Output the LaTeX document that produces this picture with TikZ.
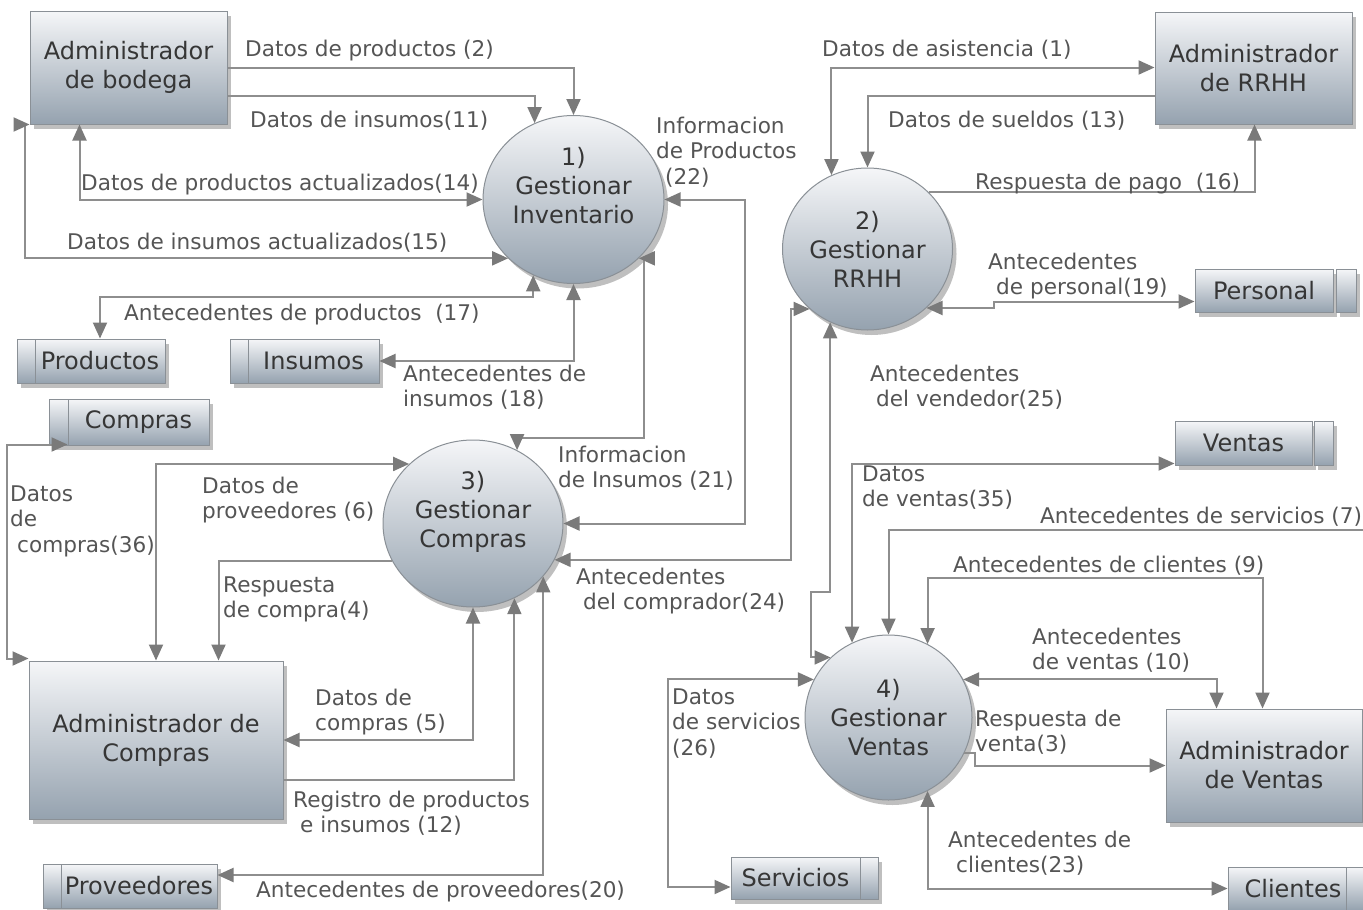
\documentclass[tikz,border=0pt]{standalone}
\usepackage{fontspec}
\setmainfont{DejaVu Sans}
\usetikzlibrary{arrows.meta,shapes.geometric,calc,shadows}
\definecolor{lc}{HTML}{8E8E8E}
\definecolor{ac}{HTML}{7A7A7A}
\definecolor{tc}{HTML}{555555}
\definecolor{nc}{HTML}{363636}
\definecolor{topc}{HTML}{F5F6F8}
\definecolor{botc}{HTML}{95A2AF}
\definecolor{bordc}{HTML}{8A9096}
\tikzset{
 ent/.style={draw=bordc, line width=1pt, top color=topc, bottom color=botc,
   drop shadow={shadow xshift=4pt,shadow yshift=-5pt,opacity=0.25,fill=black},
   font=\fontsize{24}{29}\selectfont, text=nc, align=center, inner sep=0pt},
 proc/.style={ellipse, ent},
 box/.style={rectangle, ent},
 tip/.tip={Triangle[length=16pt,width=14pt,color=ac]},
 flow/.style={draw=lc, line width=2pt, -tip},
 bflow/.style={draw=lc, line width=2pt, tip-tip},
 lbl/.style={font=\fontsize{21.6}{25.5}\selectfont, text=tc, inner sep=0pt, align=left, anchor=north west},
}
\begin{document}
\begin{tikzpicture}[x=1pt,y=-1pt]
\fill[white] (0,0) rectangle (1363,910);
\useasboundingbox (0,0) rectangle (1363,910);

% external entities
\node[box, minimum width=197pt, minimum height=113pt] (AdmB) at (128.5,67.5) {Administrador\\de bodega};
\node[box, minimum width=197pt, minimum height=112pt] (AdmR) at (1253.5,68) {Administrador\\de RRHH};
\node[box, minimum width=254pt, minimum height=158pt] (AdmC) at (156,740) {Administrador de\\Compras};
\node[box, minimum width=196pt, minimum height=113pt] (AdmV) at (1264,765.5) {Administrador\\de Ventas};

% processes
\node[proc, minimum width=181pt, minimum height=168pt] (P1) at (573.5,199.5) {1)\\Gestionar\\Inventario\\\mbox{}};
\node[proc, minimum width=170pt, minimum height=162pt] (P2) at (867.5,249) {2)\\Gestionar\\RRHH};
\node[proc, minimum width=180pt, minimum height=167pt] (P3) at (473,523.5) {3)\\Gestionar\\Compras\\\mbox{}};
\node[proc, minimum width=167pt, minimum height=165pt] (P4) at (888.5,717.5) {4)\\Gestionar\\Ventas};

% data stores (left tab)
\node[box, minimum width=18pt, minimum height=44pt] (ProductosT) at (26,361) {};
\node[box, minimum width=130pt, minimum height=44pt] (Productos) at (100,361) {Productos};
\node[box, minimum width=18pt, minimum height=44pt] (InsumosT) at (239,361) {};
\node[box, minimum width=131pt, minimum height=44pt] (Insumos) at (313.5,361) {Insumos};
\node[box, minimum width=19pt, minimum height=46pt] (ComprasT) at (58.5,422) {};
\node[box, minimum width=141pt, minimum height=46pt] (Compras) at (138.5,422) {Compras};
\node[box, minimum width=18pt, minimum height=44pt] (ProveedoresT) at (52,886) {};
\node[box, minimum width=156pt, minimum height=44pt] (Proveedores) at (139,886) {Proveedores};
% data stores (right tab)
\node[box, minimum width=138pt, minimum height=43pt] (Personal) at (1264,290.5) {Personal};
\node[box, minimum width=20pt, minimum height=43pt] (PersonalT) at (1346,290.5) {};
\node[box, minimum width=137pt, minimum height=44pt] (Ventas) at (1243.5,443) {Ventas};
\node[box, minimum width=19pt, minimum height=44pt] (VentasT) at (1323.5,443) {};
\node[box, minimum width=129pt, minimum height=42pt] (Servicios) at (795.5,878) {Servicios};
\node[box, minimum width=18pt, minimum height=42pt] (ServiciosT) at (869,878) {};
\node[box, minimum width=118pt, minimum height=43pt] (Clientes) at (1287,888.5) {\hspace*{12pt}Clientes};
\node[box, minimum width=20pt, minimum height=43pt] (ClientesT) at (1356,888.5) {};

\coordinate (s7) at (1363,530);

% flows around P1
\draw[flow] ($(AdmB.north east)+(0,57)$) -| (P1.north);
\draw[flow] ($(AdmB.north east)+(0,85)$) -| (P1.117);
\draw[bflow] (P1.west) -| ($(AdmB.south west)+(50,0)$);
\draw[bflow] (P1.222) -| ($(AdmB.south west)+(-5,0)$) -- (AdmB.south west);
\draw[bflow] (P1.242) |- ([yshift=42pt]Productos.north) -- (Productos.north);
\draw[bflow] (P1.south) |- (Insumos.east);
\draw[bflow] (P1.east) -- ++(80,0) |- (P3.east);
\draw[bflow] (P1.318) -- ++(5,0) -- ++(0,180) -| (P3.59);

% flows around P3
\draw[bflow] (AdmC.north) |- (P3.137);
\draw[flow] (P3.205) -| ($(AdmC.north west)+(190,0)$);
\draw[bflow] ([yshift=1pt]Compras.south west) -- ++(-61,0) |- ([yshift=2pt]AdmC.north west);
\draw[bflow] (AdmC.east) -| (P3.south);
\draw[flow] ([yshift=-40pt]AdmC.east) -| (P3.299);
\draw[bflow] (P3.323) |- ([yshift=11pt]Proveedores.east);
\draw[bflow] (P3.336) -- ++(236,0) |- (P2.226);

% flows around P2
\draw[bflow] (P2.116) |- ($(AdmR.north west)+(0,56)$);
\draw[flow] ($(AdmR.north west)+(0,84)$) -| (P2.north);
\draw[flow] (P2.43) -| ($(AdmR.south west)+(100,0)$);
\draw[bflow] (P2.315) -- ++(67,0) |- ([yshift=-11pt]Personal.west);
\draw[bflow] (P2.243) -- ++(0,270) -- ++(-19,0) |- (P4.134);

% flows around P4
\draw[bflow] (P4.116) |- ([yshift=2pt]Ventas.south west);
\draw[flow] (s7) -| (P4.north);
\draw[bflow] (P4.62) -- ++(0,-66) -| ($(AdmV.north west)+(97,0)$);
\draw[bflow] (P4.27) -| ($(AdmV.north west)+(51,0)$);
\draw[flow] (P4.335) -- ++(11,0) |- (AdmV.west);
\draw[bflow] (P4.298) |- (Clientes.west);
\draw[bflow] (P4.153) -- ++(-146,0) |- ([yshift=-9pt]Servicios.west);

% labels
\node[lbl] (L2) at (245,39.5) {Datos de productos (2)};
\node[lbl] (L11) at (250,110.5) {Datos de insumos(11)};
\node[lbl] (L14) at (81,173.5) {Datos de productos actualizados(14)};
\node[lbl] (L15) at (67,232.5) {Datos de insumos actualizados(15)};
\node[lbl] (L17) at (124,303.5) {Antecedentes de productos~~(17)};
\node[lbl] (L18) at (403,364.5) {Antecedentes de\\insumos (18)};
\node[lbl] (L22) at (656,116.5) {Informacion\\de Productos\\\hspace*{9pt}(22)};
\node[lbl] (L21) at (558,445.5) {Informacion\\de Insumos (21)};
\node[lbl] (L6) at (202,476.5) {Datos de\\proveedores (6)};
\node[lbl] (L36) at (10,485.5) {Datos\\de\\\hspace*{7pt}compras(36)};
\node[lbl] (L4) at (223,576.5) {Respuesta\\de compra(4)};
\node[lbl] (L5) at (315,688.5) {Datos de\\compras (5)};
\node[lbl] (L12) at (293,790.5) {Registro de productos\\\hspace*{7pt}e insumos (12)};
\node[lbl] (L20) at (256,880.5) {Antecedentes de proveedores(20)};
\node[lbl] (L24) at (576,567.5) {Antecedentes\\\hspace*{7pt}del comprador(24)};
\node[lbl] (L1) at (822,39.5) {Datos de asistencia (1)};
\node[lbl] (L13) at (888,110.5) {Datos de sueldos (13)};
\node[lbl] (L16) at (975,172.5) {Respuesta de pago~~(16)};
\node[lbl] (L19) at (988,252.5) {Antecedentes\\\hspace*{8pt}de personal(19)};
\node[lbl] (L25) at (870,364.5) {Antecedentes\\\hspace*{6pt}del vendedor(25)};
\node[lbl] (L35) at (862,465.5) {Datos\\de ventas(35)};
\node[lbl] (L7) at (1040,506.5) {Antecedentes de servicios (7)};
\node[lbl] (L9) at (953,555.5) {Antecedentes de clientes (9)};
\node[lbl] (L10) at (1032,627.5) {Antecedentes\\de ventas (10)};
\node[lbl] (L3) at (975,709.5) {Respuesta de\\venta(3)};
\node[lbl] (L23) at (948,830.5) {Antecedentes de\\\hspace*{8pt}clientes(23)};
\node[lbl] (L26) at (672,688.5) {Datos\\de servicios\\(26)};
\end{tikzpicture}
\end{document}
